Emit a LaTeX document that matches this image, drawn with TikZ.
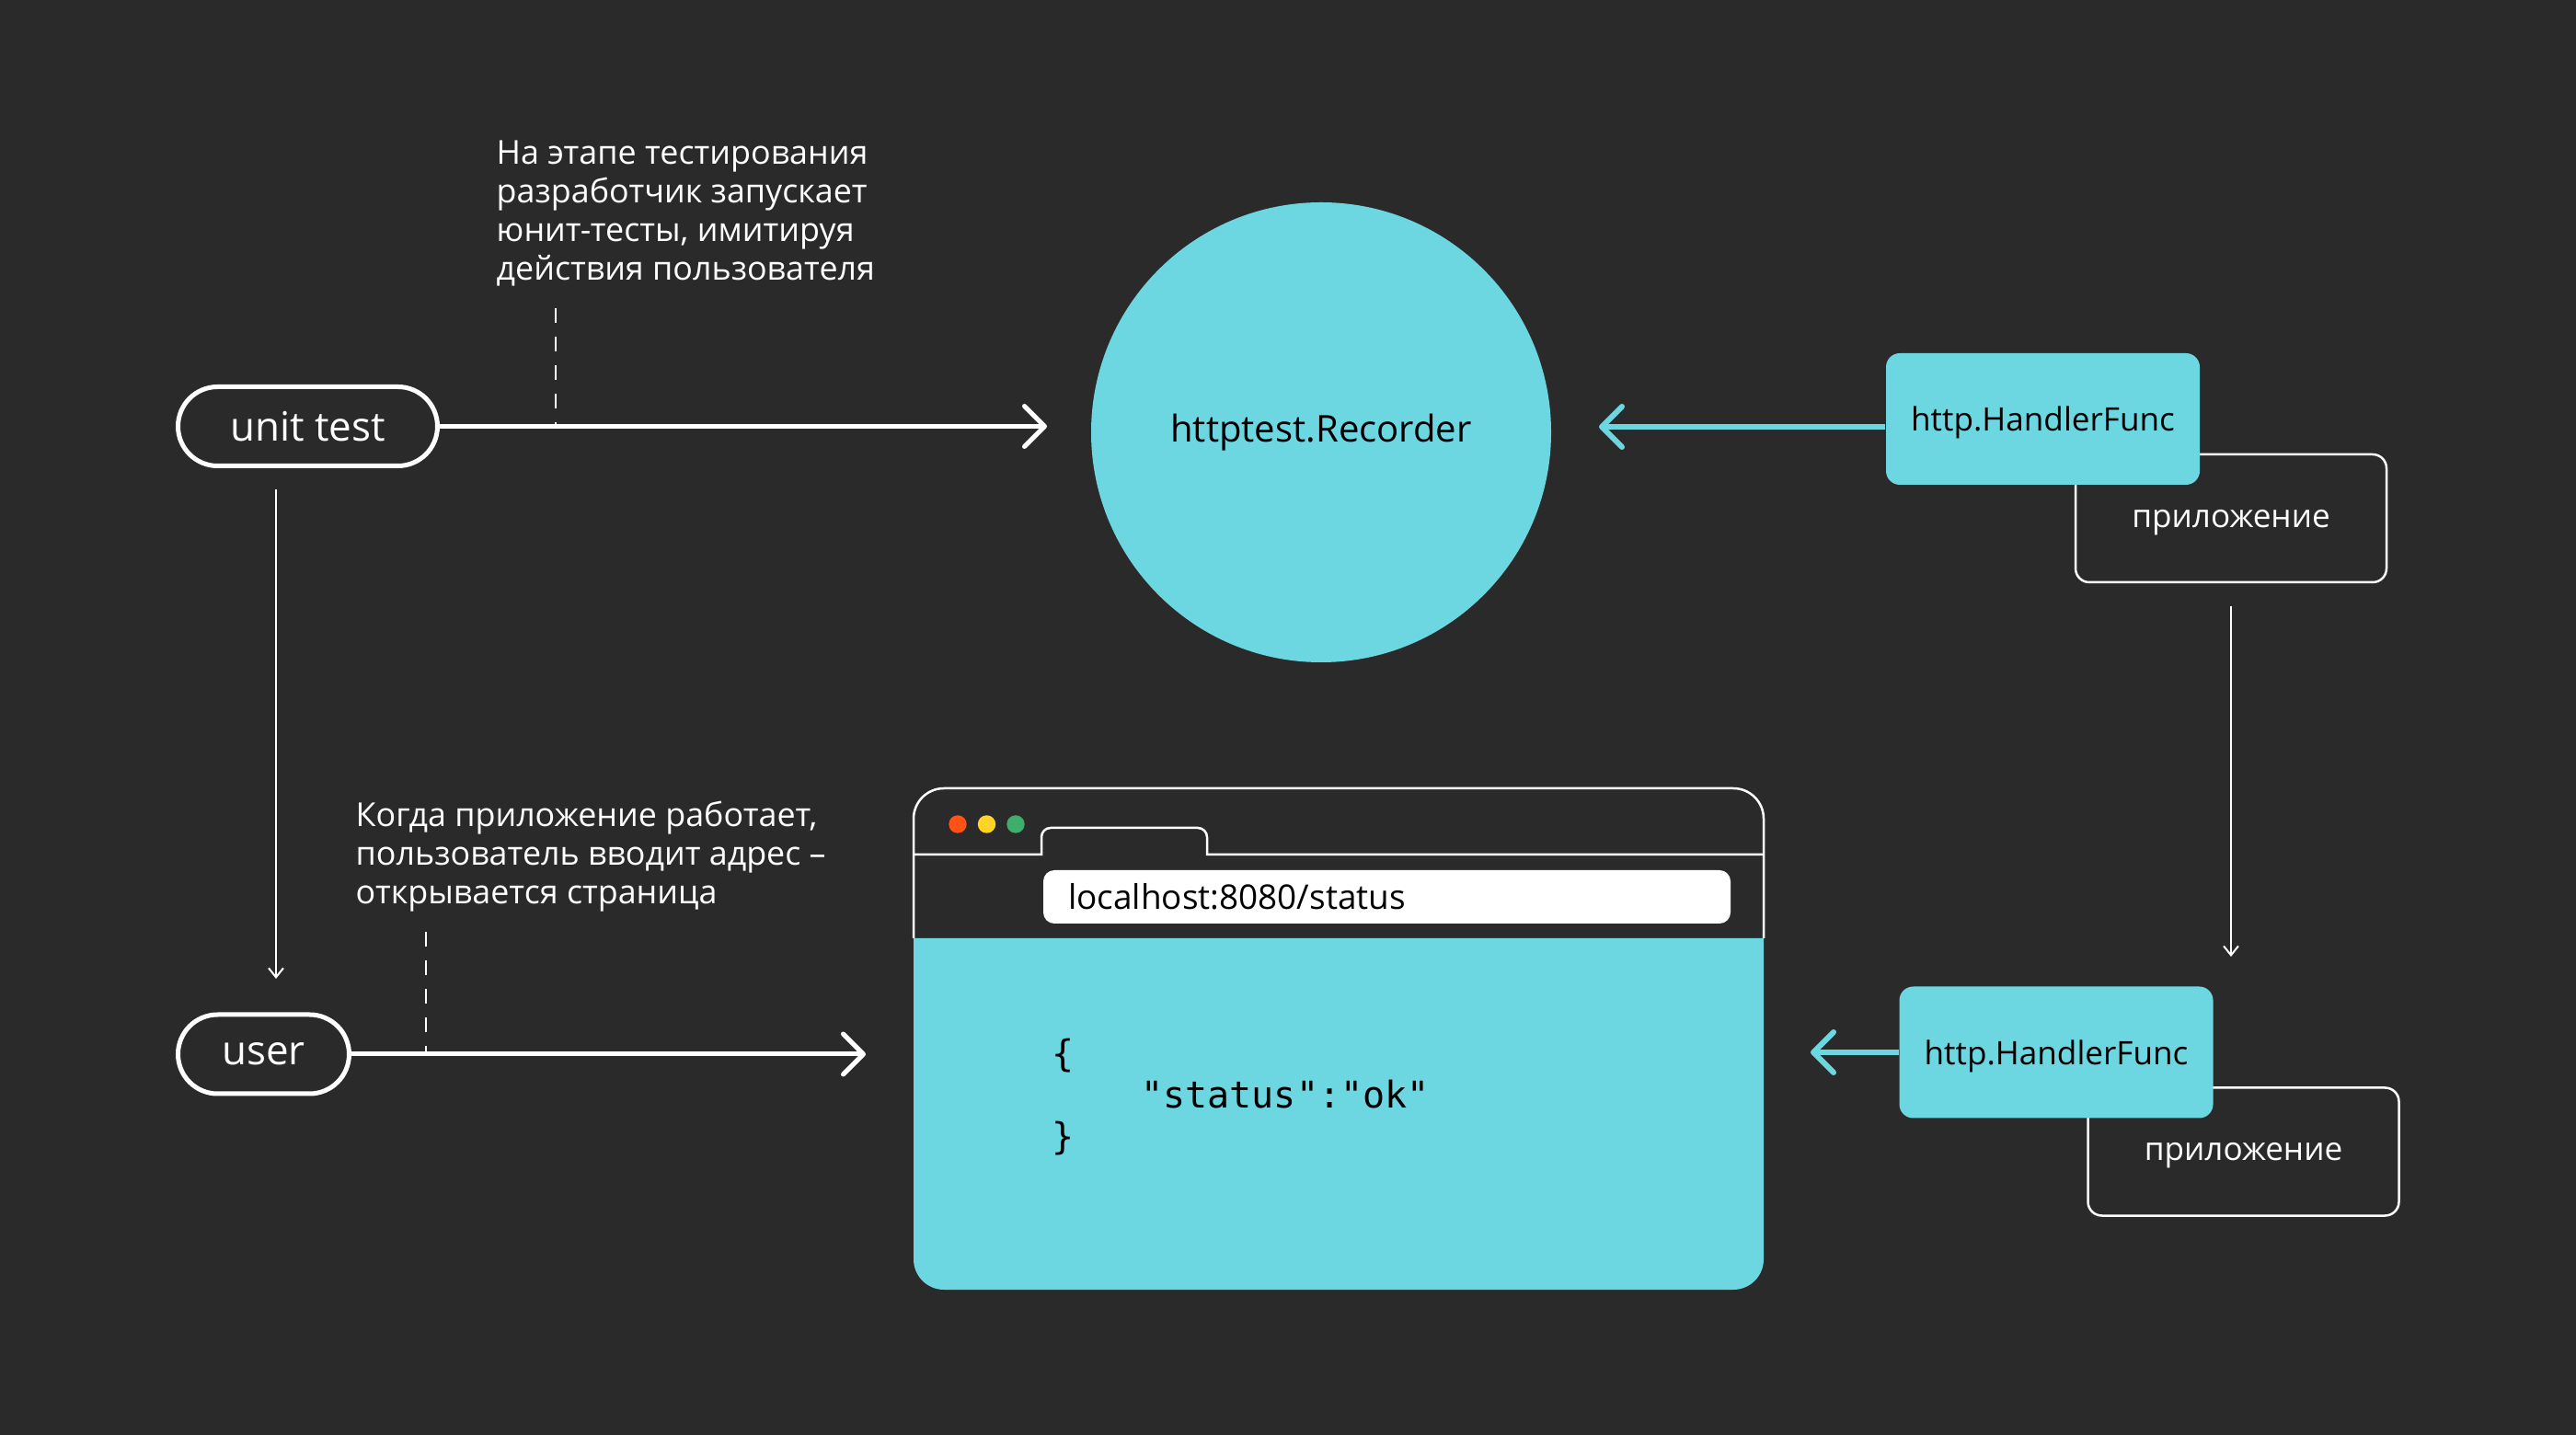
\documentclass[tikz,border=0pt]{standalone}
\usepackage{fontspec}
\setmainfont{Open Sans}
\newfontfamily\jsonfont{DejaVu Sans Mono}
\usepackage{xcolor}
\usetikzlibrary{arrows.meta, positioning, calc}
\definecolor{bgdark}{HTML}{2A2A2A}
\definecolor{tcyan}{HTML}{6DD7E1}
\definecolor{dotred}{HTML}{FF5214}
\definecolor{dotyellow}{HTML}{FFD426}
\definecolor{dotgreen}{HTML}{3DAE6B}

\begin{document}
\begin{tikzpicture}[
  pill/.style={draw=white, line width=0.05cm, rounded corners=0.43cm, minimum height=0.86cm,
               inner sep=0pt, text=white, font=\fontsize{12.5}{15}\selectfont},
  note/.style={anchor=west, align=left, inner sep=0pt, text=white,
               font=\fontsize{10.2}{12}\selectfont},
  hbox/.style={fill=tcyan, rounded corners=0.15cm, minimum width=3.41cm, minimum height=1.43cm,
               inner sep=0pt, text depth=0pt, font=\fontsize{10}{12}\selectfont},
  appbox/.style={draw=white, line width=0.025cm, rounded corners=0.15cm, minimum width=3.38cm,
                 minimum height=1.39cm, inner sep=0pt, text depth=0pt, text=white,
                 font=\fontsize{10}{12}\selectfont},
  arr/.style={-{Straight Barb[length=2.2mm, width=4.4mm, round]}, line width=0.05cm, white},
  carr/.style={-{Straight Barb[length=2.2mm, width=4.4mm, round]}, line width=0.06cm, tcyan},
  thinarr/.style={-{Straight Barb[length=1mm, width=1.6mm]}, line width=0.02cm, white},
  dashline/.style={white, line width=0.02cm, dash pattern=on 0.16cm off 0.15cm},
]
\fill[bgdark] (0,0) rectangle (28,-15.6);
\useasboundingbox (0,0) rectangle (28,-15.6);

% Unit test
\node[pill, minimum width=2.82cm] (unit) at (3.345,-4.635) {unit test};
\node[note] (note1) at (5.39,-2.32) {На этапе тестирования\\разработчик запускает\\юнит-тесты, имитируя\\действия пользователя};
\coordinate (note1foot) at (6.04,-3.35);
\coordinate (recL) at (11.38,-4.635);
\draw[dashline] (note1foot) -- (note1foot |- unit);
\draw[arr] (unit.east) -- (recL);

% Recorder
\node[circle, fill=tcyan, minimum size=5cm, inner sep=0pt,
      font=\fontsize{11.4}{13}\selectfont] (rec) at (14.36,-4.70) {httptest.Recorder};

% Handler (test)
\node[appbox] (app1) at (24.25,-5.635) {приложение};
\node[hbox] (hf1) at (22.205,-4.555) {http.HandlerFunc};
\coordinate (recR) at (17.38,-4.64);
\draw[carr] (hf1.west |- recR) -- (recR);

\coordinate (v2a) at (24.25,-6.59);
\coordinate (v2b) at (24.25,-10.40);
\draw[thinarr] (v2a) -- (v2b);

% User
\coordinate (v1a) at (3.00,-5.32);
\coordinate (v1b) at (3.00,-10.64);
\draw[thinarr] (v1a) -- (v1b);
\node[pill, minimum width=1.86cm] (user) at (2.865,-11.46) {user};
\node[note] (note2) at (3.86,-9.31) {Когда приложение работает,\\пользователь вводит адрес –\\открывается страница};
\coordinate (note2foot) at (4.63,-10.13);
\coordinate (brL) at (9.41,-11.46);
\draw[dashline] (note2foot) -- (note2foot |- user);
\draw[arr] (user.east) -- (brL);

% Browser window
\fill[tcyan] (9.93,-10.20) -- (19.17,-10.20) -- (19.17,-13.69)
  arc[start angle=0, end angle=-90, radius=0.33] -- (10.26,-14.02)
  arc[start angle=270, end angle=180, radius=0.33] -- cycle;
\draw[white, line width=0.025cm] (9.93,-10.20) -- (9.93,-8.90)
  arc[start angle=180, end angle=90, radius=0.33] -- (18.84,-8.57)
  arc[start angle=90, end angle=0, radius=0.33] -- (19.17,-10.20);
\draw[white, line width=0.025cm] (9.93,-9.29) -- (11.32,-9.29) -- (11.32,-9.10)
  arc[start angle=180, end angle=90, radius=0.1] -- (13.02,-9.00)
  arc[start angle=90, end angle=0, radius=0.1] -- (13.12,-9.29) -- (19.17,-9.29);
\foreach \c [count=\i] in {dotred, dotyellow, dotgreen}
  \fill[\c] ({10.41+0.315*(\i-1)},-8.96) circle (0.097);
\node[fill=white, rounded corners=0.12cm, minimum width=7.47cm, minimum height=0.58cm,
      inner sep=0pt] (url) at (15.075,-9.75) {};
\node[right=0.27cm of url.west, inner sep=0pt, font=\fontsize{10.5}{12}\selectfont] (urltext) {localhost:8080/status};
\node[anchor=west, align=left, inner sep=0pt,
      font=\jsonfont\fontsize{11.4}{12.8}\selectfont] (json) at (11.43,-11.93)
      {\{\\\phantom{0000}"status":"ok"\\\}};

% Handler (app)
\node[appbox] (app2) at (24.385,-12.52) {приложение};
\node[hbox] (hf2) at (22.35,-11.44) {http.HandlerFunc};
\coordinate (brR) at (19.68,-11.44);
\draw[carr] (hf2.west) -- (brR);
\end{tikzpicture}
\end{document}
